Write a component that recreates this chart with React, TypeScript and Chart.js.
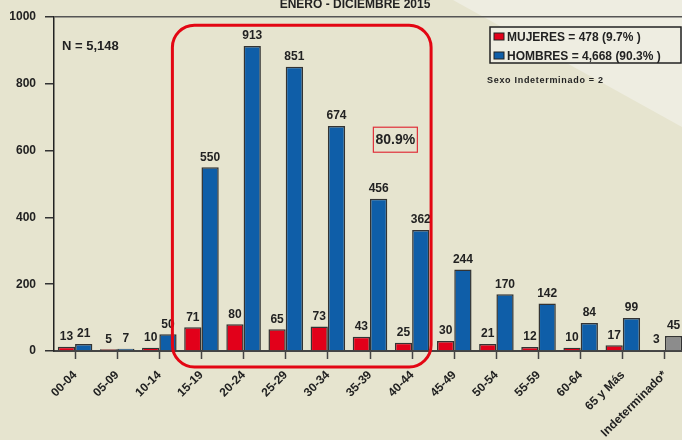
import React, { useEffect, useRef } from "react";
import { Chart, registerables } from "chart.js";

Chart.register(...registerables);

const categories = [
  "00-04", "05-09", "10-14", "15-19", "20-24", "25-29", "30-34", "35-39",
  "40-44", "45-49", "50-54", "55-59", "60-64", "65 y Más", "Indeterminado*",
];
const mujeres = [13, 5, 10, 71, 80, 65, 73, 43, 25, 30, 21, 12, 10, 17, 3];
const hombres = [21, 7, 50, 550, 913, 851, 674, 456, 362, 244, 170, 142, 84, 99, 45];
const yTicks = [0, 200, 400, 600, 800, 1000];
const titleText = "ENERO - DICIEMBRE 2015";
const legendItems = ["MUJERES = 478 (9.7% )", "HOMBRES = 4,668 (90.3% )"];
const totalText = "N = 5,148";
const highlightText = "80.9%";
const noteText = "Sexo Indeterminado = 2";
const unknownLabel = "Indeterminado*";

const RED = "#E2001A";
const BLUE = "#0F5EA8";
const GRAY = "#8C8C8C";
const BG = "#E6E4CF";
const BG_LIGHT = "#EEEDE1";
const TEXT = "#222222";
const FONT = "'Liberation Sans', Arial, sans-serif";

const colorFor = (base: string) =>
  categories.map((c) => (c === unknownLabel ? GRAY : base));

const backgroundPlugin = {
  id: "bgPlugin",
  beforeDraw(chart: any) {
    const { ctx, width, height } = chart;
    ctx.save();
    ctx.fillStyle = BG;
    ctx.fillRect(0, 0, width, height);
    ctx.fillStyle = BG_LIGHT;
    ctx.beginPath();
    ctx.moveTo(453, 0);
    ctx.lineTo(width, 0);
    ctx.lineTo(width, 127 + ((width - 682) * 127) / 229);
    ctx.closePath();
    ctx.fill();
    // title
    ctx.fillStyle = TEXT;
    ctx.font = `bold 12px ${FONT}`;
    ctx.textAlign = "center";
    ctx.textBaseline = "alphabetic";
    ctx.fillText(titleText, 355, 8);
    ctx.restore();
  },
};

const overlayPlugin = {
  id: "overlayPlugin",
  afterDatasetsDraw(chart: any) {
    const { ctx } = chart;
    ctx.save();
    ctx.fillStyle = TEXT;
    ctx.font = `bold 12px ${FONT}`;
    ctx.textAlign = "center";
    ctx.textBaseline = "bottom";
    chart.data.datasets.forEach((ds: any, i: number) => {
      const meta = chart.getDatasetMeta(i);
      meta.data.forEach((el: any, j: number) => {
        ctx.fillText(String(ds.data[j]), el.x, el.y - 4);
      });
    });
    ctx.restore();
  },
  afterDraw(chart: any) {
    const { ctx } = chart;
    const x = chart.scales.x;
    const y = chart.scales.y;
    const step = x.getPixelForValue(1) - x.getPixelForValue(0);
    ctx.save();

    // big red rounded frame
    const left = x.getPixelForValue(2) + step * 0.31;
    const right = x.getPixelForValue(8) + step * 0.45;
    const top = y.getPixelForValue(975);
    const bottom = y.getPixelForValue(0) + 16;
    ctx.strokeStyle = "#E30613";
    ctx.lineWidth = 3;
    ctx.beginPath();
    ctx.roundRect(left, top, right - left, bottom - top, 22);
    ctx.stroke();

    // 80.9% box
    const bx = x.getPixelForValue(7) + step * 0.08;
    const by = y.getPixelForValue(670);
    ctx.lineWidth = 1.2;
    ctx.strokeStyle = "#E0303A";
    ctx.strokeRect(bx, by, 44, 25);
    ctx.fillStyle = TEXT;
    ctx.font = `bold 14px ${FONT}`;
    ctx.textAlign = "center";
    ctx.textBaseline = "middle";
    ctx.fillText(highlightText, bx + 22, by + 13);

    // N = ...
    ctx.font = `bold 13px ${FONT}`;
    ctx.textAlign = "left";
    ctx.fillText(totalText, 62, 46);

    // legend box
    ctx.fillStyle = BG_LIGHT;
    ctx.fillRect(490, 27, 191, 36);
    ctx.strokeStyle = "#222";
    ctx.lineWidth = 1.5;
    ctx.strokeRect(490, 27, 191, 36);
    const swatches = [RED, BLUE];
    legendItems.forEach((t, i) => {
      const cy = 37 + i * 19;
      ctx.fillStyle = swatches[i];
      ctx.fillRect(494, cy - 4, 10, 7);
      ctx.strokeStyle = "#222";
      ctx.lineWidth = 1;
      ctx.strokeRect(494, cy - 4, 10, 7);
      ctx.fillStyle = TEXT;
      ctx.font = `bold 12px ${FONT}`;
      ctx.textAlign = "left";
      ctx.textBaseline = "middle";
      ctx.fillText(t, 507, cy + 0.5);
    });

    // note
    ctx.font = `bold 9px ${FONT}`;
    (ctx as any).letterSpacing = "0.7px";
    ctx.fillText(noteText, 487, 81);
    (ctx as any).letterSpacing = "0px";
    ctx.restore();
  },
};

export default function App() {
  const canvasRef = useRef<HTMLCanvasElement | null>(null);

  useEffect(() => {
    if (!canvasRef.current) return;
    const chart = new Chart(canvasRef.current, {
      type: "bar",
      data: {
        labels: categories,
        datasets: [
          {
            label: "MUJERES",
            data: mujeres,
            backgroundColor: colorFor(RED),
            borderColor: "#333",
            borderWidth: 1.5,
            categoryPercentage: 0.82,
            barPercentage: 1.0,
          },
          {
            label: "HOMBRES",
            data: hombres,
            backgroundColor: colorFor(BLUE),
            borderColor: "#333",
            borderWidth: 1.5,
            categoryPercentage: 0.82,
            barPercentage: 1.0,
          },
        ],
      },
      options: {
        responsive: false,
        animation: false,
        layout: { padding: { top: 17, left: 0, right: 0, bottom: 0 } },
        plugins: {
          legend: { display: false },
          tooltip: { enabled: false },
          title: { display: false },
        },
        scales: {
          x: {
            offset: true,
            grid: {
              display: true,
              offset: false,
              drawOnChartArea: false,
              drawTicks: true,
              tickLength: 8,
              tickColor: "#444",
              tickWidth: 1.5,
            },
            border: { display: true, color: "#444", width: 2 },
            ticks: {
              color: TEXT,
              font: { family: FONT, size: 12, weight: "bold" },
              maxRotation: 45,
              minRotation: 45,
              autoSkip: false,
              padding: 9,
            },
            afterFit(scale: any) {
              scale.height = 89;
              scale.paddingLeft = 0;
              scale.paddingRight = 0;
            },
          },
          y: {
            min: 0,
            max: 1000,
            afterBuildTicks(scale: any) {
              scale.ticks = yTicks.map((v) => ({ value: v }));
            },
            grid: {
              drawTicks: true,
              tickLength: 9,
              tickColor: "#333",
              tickWidth: 1.5,
              color: (c: any) =>
                c.tick && c.tick.value === 1000 ? "#555" : "rgba(0,0,0,0)",
              lineWidth: 1.5,
            },
            border: { display: true, color: "#222", width: 1.5 },
            ticks: {
              color: TEXT,
              font: { family: FONT, size: 12, weight: "bold" },
              padding: 9,
              callback: (v: any) => String(v),
            },
            afterFit(scale: any) {
              scale.width = 54;
              scale.paddingTop = 0;
              scale.paddingBottom = 0;
            },
          },
        },
      },
      plugins: [backgroundPlugin, overlayPlugin],
    } as any);
    return () => chart.destroy();
  }, []);

  return (
    <div
      style={{
        position: "fixed",
        left: 0,
        top: 0,
        width: 682,
        height: 440,
        overflow: "hidden",
      }}
    >
      <canvas ref={canvasRef} width={686} height={440} style={{ display: "block" }} />
    </div>
  );
}
